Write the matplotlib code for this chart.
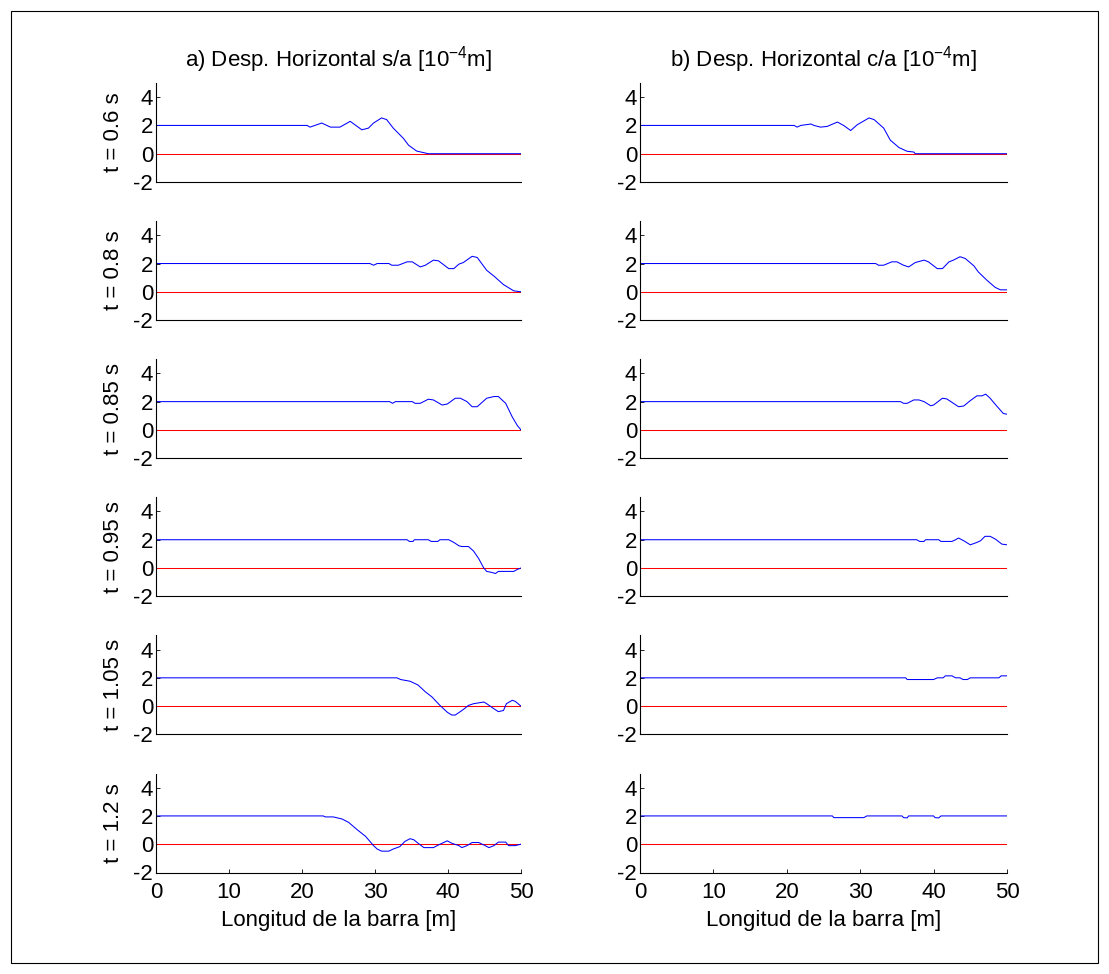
import matplotlib.pyplot as plt
from matplotlib.patches import Rectangle

# Desplazamiento horizontal [1e-4 m] a lo largo de la barra, s/a (sin amortiguar) y c/a (con amortiguar)
x_sa_06 = [0, 20.7, 21.1, 22.7, 23.9, 25.2, 26.6, 28.2, 29.1, 29.8, 30.9, 31.6, 32.5, 33.9, 34.6, 35.7, 37.3, 50]
y_sa_06 = [2, 2, 1.88, 2.17, 1.88, 1.88, 2.29, 1.69, 1.81, 2.17, 2.53, 2.41, 1.81, 1.08, 0.6, 0.19, 0.0, 0.0]
x_ca_06 = [0, 21.0, 21.4, 21.9, 23.3, 23.7, 24.6, 25.5, 26.9, 27.8, 28.7, 29.6, 31.2, 31.9, 33.2, 34.1, 35.3, 36.4, 37.3, 37.5, 50]
y_ca_06 = [2, 2, 1.88, 2.0, 2.1, 2.0, 1.88, 1.93, 2.24, 1.98, 1.64, 2.05, 2.53, 2.41, 1.81, 0.96, 0.43, 0.17, 0.12, 0.0, 0.0]

x_sa_08 = [0, 29.3, 29.8, 30.3, 31.9, 32.3, 33.2, 34.4, 35.1, 36.2, 36.9, 38.0, 38.7, 40.1, 40.8, 41.5, 42.1,
           43.3, 44.0, 45.3, 46.3, 47.6, 49.0, 50]
y_sa_08 = [2, 2, 1.88, 2.0, 2.0, 1.88, 1.88, 2.12, 2.12, 1.76, 1.88, 2.24, 2.19, 1.64, 1.64, 1.96, 2.07,
           2.51, 2.43, 1.52, 1.11, 0.51, 0.07, 0.0]
x_ca_08 = [0, 32.1, 32.5, 33.2, 34.3, 35.0, 35.9, 36.6, 37.5, 38.7, 39.3, 40.5, 41.2, 42.1, 42.7, 43.6, 44.3,
           45.5, 46.1, 47.3, 48.4, 49.1, 50]
y_ca_08 = [2, 2, 1.88, 1.88, 2.12, 2.12, 1.88, 1.76, 2.07, 2.24, 2.12, 1.64, 1.64, 2.12, 2.24, 2.48, 2.36,
           1.83, 1.40, 0.80, 0.31, 0.14, 0.14]

x_sa_085 = [0, 32.0, 32.4, 32.8, 35.1, 35.5, 36.2, 37.3, 38.0, 39.2, 39.9, 41.0, 41.7, 42.6, 43.3, 44.0, 45.3,
            46.3, 46.9, 47.9, 48.8, 49.5, 50]
y_sa_085 = [2, 2, 1.88, 2.0, 2.0, 1.88, 1.88, 2.17, 2.12, 1.76, 1.83, 2.24, 2.24, 2.0, 1.64, 1.64, 2.24,
            2.36, 2.36, 1.88, 0.92, 0.31, 0.0]
x_ca_085 = [0, 35.5, 35.9, 36.4, 37.3, 38.0, 38.7, 39.6, 40.0, 41.2, 41.8, 42.7, 43.4, 44.1, 45.0, 45.9, 46.6,
            47.1, 47.7, 48.6, 49.5, 50]
y_ca_085 = [2, 2, 1.88, 1.88, 2.12, 2.12, 2.0, 1.71, 1.76, 2.24, 2.19, 1.88, 1.64, 1.69, 2.07, 2.41, 2.41,
            2.53, 2.24, 1.69, 1.16, 1.11]

x_sa_095 = [0, 34.4, 34.7, 35.2, 35.4, 37.3, 37.7, 38.6, 38.9, 40.1, 40.8, 41.5, 41.9, 42.8, 43.5, 44.2, 44.9,
            45.3, 46.0, 46.5, 46.9, 49.0, 49.5, 50]
y_sa_095 = [2, 2, 1.88, 1.88, 2.0, 2.0, 1.88, 1.88, 2.0, 2.0, 1.81, 1.57, 1.52, 1.52, 1.20, 0.67, 0.0,
            -0.24, -0.31, -0.39, -0.24, -0.24, -0.1, 0.0]
x_ca_095 = [0, 37.7, 38.1, 38.7, 38.9, 40.7, 41.0, 42.5, 43.0, 43.4, 44.1, 45.0, 45.9, 46.4, 47.0, 47.7, 48.4,
            49.3, 50]
y_ca_095 = [2, 2, 1.88, 1.88, 2.0, 2.0, 1.88, 1.88, 2.0, 2.12, 1.93, 1.64, 1.81, 1.93, 2.24, 2.24, 2.05,
            1.69, 1.64]

x_sa_105 = [0, 31.9, 33.0, 33.5, 34.8, 35.9, 36.9, 37.8, 38.9, 39.9, 40.5, 41.0, 42.1, 42.8, 43.5, 44.9, 45.3,
            46.3, 46.9, 47.6, 48.0, 48.8, 49.2, 50]
y_sa_105 = [2, 2, 2.0, 1.88, 1.76, 1.49, 1.01, 0.65, 0.05, -0.43, -0.63, -0.63, -0.24, 0.05, 0.17, 0.29, 0.17,
            -0.19, -0.39, -0.31, 0.17, 0.41, 0.34, 0.0]
x_ca_105 = [0, 36.2, 36.4, 40.0, 40.5, 41.3, 41.6, 42.5, 43.0, 43.6, 44.0, 44.6, 45.0, 48.9, 49.2, 50]
y_ca_105 = [2, 2, 1.88, 1.88, 2.0, 2.0, 2.14, 2.14, 2.0, 2.0, 1.88, 1.88, 2.0, 2.0, 2.14, 2.14]

x_sa_12 = [0, 22.9, 23.2, 24.3, 25.5, 26.4, 27.5, 28.7, 29.3, 29.8, 30.3, 30.9, 31.9, 32.5, 33.4, 34.1, 34.8,
           35.3, 35.9, 36.7, 38.0, 38.9, 39.9, 40.5, 41.5, 41.9, 42.6, 43.3, 44.2, 44.9, 45.6, 46.3, 46.9,
           47.9, 48.3, 49.2, 50]
y_sa_12 = [2, 2, 1.93, 1.93, 1.78, 1.54, 1.05, 0.56, 0.2, -0.1, -0.34, -0.49, -0.49, -0.34, -0.17, 0.2, 0.39,
           0.32, 0.07, -0.24, -0.24, 0.0, 0.24, 0.07, -0.1, -0.24, -0.1, 0.12, 0.12, -0.05, -0.24, -0.1, 0.15,
           0.15, -0.1, -0.1, 0.0]
x_ca_12 = [0, 26.2, 26.4, 30.5, 30.9, 35.7, 35.9, 36.4, 36.6, 40.0, 40.2, 40.7, 41.0, 50]
y_ca_12 = [2, 2, 1.88, 1.88, 2.0, 2.0, 1.88, 1.86, 2.0, 2.0, 1.88, 1.86, 2.0, 2.0]

row_labels = ['t = 0.6 s', 't = 0.8 s', 't = 0.85 s', 't = 0.95 s', 't = 1.05 s', 't = 1.2 s']
col_titles = ['a) Desp. Horizontal s/a [10$^{\\mathrm{-4}}$m]', 'b) Desp. Horizontal c/a [10$^{\\mathrm{-4}}$m]']
xlabel_txt = 'Longitud de la barra [m]'
xticks = [0, 10, 20, 30, 40, 50]
yticks = [-2, 0, 2, 4]

series = [
    [(x_sa_06, y_sa_06), (x_ca_06, y_ca_06)],
    [(x_sa_08, y_sa_08), (x_ca_08, y_ca_08)],
    [(x_sa_085, y_sa_085), (x_ca_085, y_ca_085)],
    [(x_sa_095, y_sa_095), (x_ca_095, y_ca_095)],
    [(x_sa_105, y_sa_105), (x_ca_105, y_ca_105)],
    [(x_sa_12, y_sa_12), (x_ca_12, y_ca_12)],
]

FS = 16
plt.rcParams.update({'font.family': ['Liberation Sans', 'DejaVu Sans'], 'font.size': FS})
plt.rcParams.update({'axes.unicode_minus': False})
plt.rcParams.update({'mathtext.fontset': 'custom', 'mathtext.rm': 'Liberation Sans',
                     'mathtext.it': 'Liberation Sans:italic', 'mathtext.bf': 'Liberation Sans:bold'})

W, H = 1109, 974
fig = plt.figure(figsize=(W / 100, H / 100), dpi=100)

# marco exterior
fig.patches.append(Rectangle((11 / W, 11 / H), 1 - 22 / W, 1 - 22 / H, transform=fig.transFigure,
                             fill=False, edgecolor='black', linewidth=0.8))

col_left = [156, 640]
col_width = [365, 367]
ax_h = 99

for i in range(6):
    top = 83 + i * 138.1
    for j in range(2):
        ax = fig.add_axes([col_left[j] / W, 1 - (top + ax_h) / H, col_width[j] / W, ax_h / H])
        xs, ys = series[i][j]
        ax.plot([0, 50], [0, 0], color='red', linewidth=0.75)
        ax.plot(xs, ys, color='blue', linewidth=0.75)
        ax.set_xlim(0, 50)
        ax.set_ylim(-2, 5)
        ax.set_yticks(yticks)
        ax.spines['top'].set_visible(False)
        ax.spines['right'].set_visible(False)
        ax.spines['left'].set_linewidth(0.8)
        ax.spines['bottom'].set_linewidth(0.8)
        ax.tick_params(direction='in', length=3, width=0.6, labelsize=FS)
        ax.tick_params(axis='y', pad=2)
        if i == 5:
            ax.set_xticks(xticks)
            ax.tick_params(axis='x', pad=7)
            ax.set_xlabel(xlabel_txt, labelpad=5)
        else:
            ax.set_xticks([])
        if j == 0:
            ax.set_ylabel(row_labels[i], labelpad=7)
        if i == 0:
            ax.set_title(col_titles[j], fontsize=FS, pad=12)

fig.savefig('out.png', dpi=100)
